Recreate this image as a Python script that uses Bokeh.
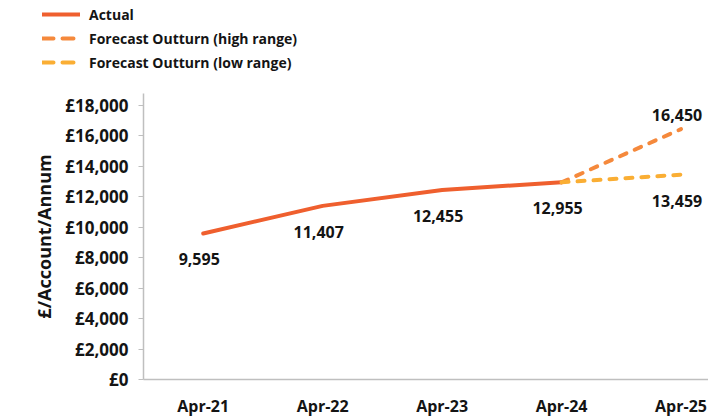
from bokeh.plotting import figure
from bokeh.layouts import column, row
from bokeh.models import Range1d, FixedTicker, Legend, LegendItem, ColumnDataSource
from bokeh.core.properties import value
from bokeh.embed import file_html
from bokeh.resources import INLINE

# ---- data ----
months = ["Apr-21", "Apr-22", "Apr-23", "Apr-24", "Apr-25"]
actual_values = [9595, 11407, 12455, 12955]
high_values = [12955, 16450]
low_values = [12955, 13459]
y_ticks = [0, 2000, 4000, 6000, 8000, 10000, 12000, 14000, 16000, 18000]
y_tick_labels = ["£0", "£2,000", "£4,000", "£6,000", "£8,000", "£10,000",
                 "£12,000", "£14,000", "£16,000", "£18,000"]
y_title = "£/Account/Annum"
series_names = ["Actual", "Forecast Outturn (high range)", "Forecast Outturn (low range)"]

FONT = "Open Sans"
TXT = "#141414"
AXIS_GREY = "#BFBFBF"
C_ACTUAL = "#EF5F2E"
C_HIGH = "#F5893C"
C_LOW = "#FAAE34"
ACT_STYLE = dict(line_color=C_ACTUAL, line_width=4, line_cap="round", line_join="round")
HIGH_STYLE = dict(line_color=C_HIGH, line_width=4, line_dash="7 9", line_cap="round")
LOW_STYLE = dict(line_color=C_LOW, line_width=4, line_dash="7 9", line_cap="round")
LEGEND_DASH = "11 9"

x_idx = list(range(len(months)))
n_act = len(actual_values)
actual_x = x_idx[:n_act]
fc_x = x_idx[n_act - 1:n_act - 1 + len(high_values)]

# ---- legend strip (its own figure; the series are drawn outside its view) ----
lg = figure(width=708, height=93, output_backend="svg", toolbar_location=None,
            x_range=Range1d(-10, -9), y_range=Range1d(-10, -9),
            x_axis_location=None, y_axis_location=None,
            min_border_left=0, min_border_right=0, min_border_top=0, min_border_bottom=0)
lg.outline_line_color = None
lg.xgrid.visible = False
lg.ygrid.visible = False
l_act = lg.line(actual_x, actual_values, **ACT_STYLE)
l_high = lg.line(fc_x, high_values, **{**HIGH_STYLE, "line_dash": LEGEND_DASH})
l_low = lg.line(fc_x, low_values, **{**LOW_STYLE, "line_dash": LEGEND_DASH})
legend = Legend(items=[
    LegendItem(label=series_names[0], renderers=[l_act]),
    LegendItem(label=series_names[1], renderers=[l_high]),
    LegendItem(label=series_names[2], renderers=[l_low]),
], location=(42, 21), padding=0, margin=0, spacing=4, label_height=20,
    glyph_height=20, glyph_width=38, label_standoff=9,
    border_line_color=None, background_fill_alpha=0,
    label_text_font=FONT, label_text_font_style="bold",
    label_text_font_size="14px", label_text_color=TXT)
lg.add_layout(legend)

# ---- main chart ----
p = figure(width=708, height=326, output_backend="svg", toolbar_location=None,
           x_range=Range1d(-0.5, 4.23), y_range=Range1d(0, 18790),
           min_border_left=143, min_border_right=0, min_border_top=0,
           min_border_bottom=37)
p.outline_line_color = None
p.xgrid.visible = False
p.ygrid.visible = False
p.background_fill_color = "white"
p.border_fill_color = "white"

p.line(actual_x, actual_values, **ACT_STYLE)
p.line(fc_x, high_values, **HIGH_STYLE)
p.line(fc_x, low_values, **LOW_STYLE)

# data labels
below_src = ColumnDataSource(dict(
    x=actual_x + [fc_x[-1]],
    y=actual_values + [low_values[-1]],
    t=[f"{v:,}" for v in actual_values + [low_values[-1]]],
))
above_src = ColumnDataSource(dict(
    x=[fc_x[-1]], y=[high_values[-1]], t=[f"{high_values[-1]:,}"],
))
common = dict(text="t", text_align="center", text_baseline="middle",
              text_font=value(FONT), text_font_style="bold",
              text_font_size="16px", text_color=TXT, x_offset=-4)
p.text(x="x", y="y", source=below_src, y_offset=26, **common)
p.text(x="x", y="y", source=above_src, y_offset=-14, **common)

# x axis
xa = p.xaxis[0]
xa.ticker = FixedTicker(ticks=x_idx)
xa.major_label_overrides = {i: m for i, m in zip(x_idx, months)}
xa.major_tick_line_color = None
xa.major_tick_in = 0
xa.major_tick_out = 0
xa.minor_tick_line_color = None
xa.minor_tick_out = 0
xa.major_label_standoff = 15
xa.axis_line_color = AXIS_GREY
xa.axis_line_width = 1.5
xa.major_label_text_font = FONT
xa.major_label_text_font_style = "bold"
xa.major_label_text_font_size = "16px"
xa.major_label_text_color = TXT

# y axis
ya = p.yaxis[0]
ya.ticker = FixedTicker(ticks=y_ticks)
ya.major_label_overrides = {t: l for t, l in zip(y_ticks, y_tick_labels)}
ya.major_tick_in = 0
ya.major_tick_out = 5
ya.major_tick_line_color = AXIS_GREY
ya.minor_tick_line_color = None
ya.axis_line_color = AXIS_GREY
ya.axis_line_width = 1.5
ya.major_label_standoff = 10
ya.major_label_text_font = FONT
ya.major_label_text_font_style = "bold"
ya.major_label_text_font_size = "17px"
ya.major_label_text_color = TXT
ya.axis_label = y_title
ya.axis_label_text_font = FONT
ya.axis_label_text_font_style = "bold"
ya.axis_label_text_font_size = "18px"
ya.axis_label_text_color = TXT
ya.axis_label_standoff = 6

layout = column(row(lg), p, spacing=0)
open("out.html", "w").write(file_html(layout, INLINE))
